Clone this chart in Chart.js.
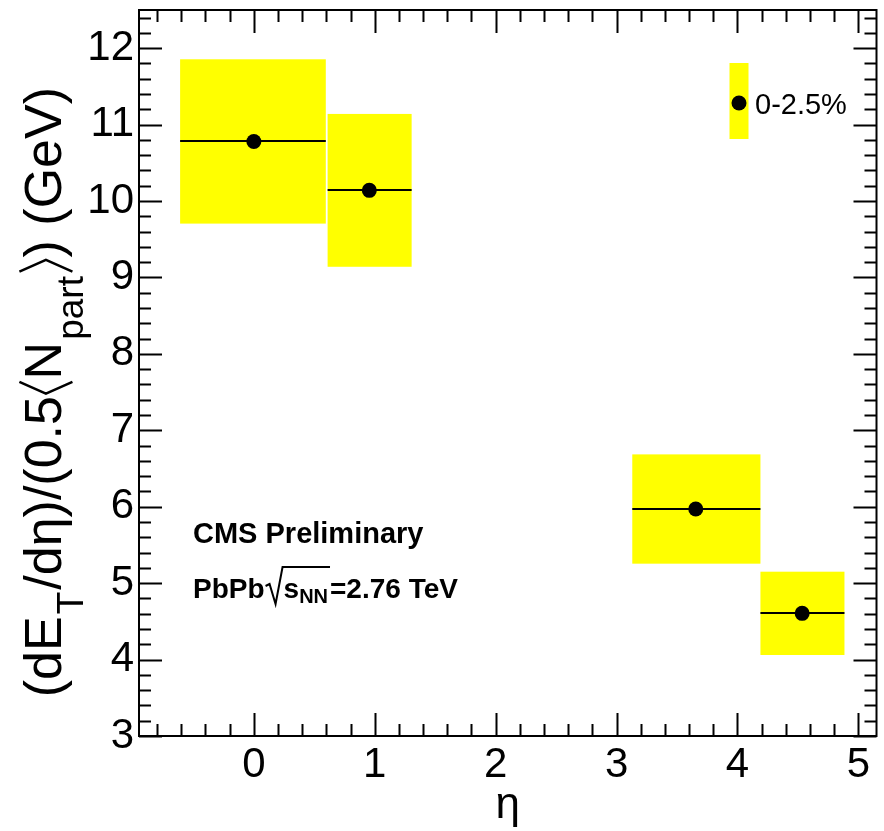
<!DOCTYPE html>
<html>
<head>
<meta charset="utf-8">
<script src="https://cdn.jsdelivr.net/npm/chart.js@4.4.1/dist/chart.umd.min.js"></script>
<style>
  html, body { margin: 0; padding: 0; background: #fff; }
  canvas { display: block; }
</style>
</head>
<body>
<canvas id="graph" width="884" height="831"></canvas>
<script>
// eta bins (centre and edges)
const eta = [0, 0.955, 3.655, 4.535];
const etaLow = [-0.61, 0.61, 3.13, 4.19];
const etaHigh = [0.595, 1.305, 4.19, 4.885];
// (dE_T/deta)/(0.5 <Npart>) in GeV, with systematic errors
const etPerPart = [10.78, 10.14, 5.97, 4.605];
const sysErr = [1.075, 1.0, 0.715, 0.545];

const xTicks = [0, 1, 2, 3, 4, 5];
const yTicks = [3, 4, 5, 6, 7, 8, 9, 10, 11, 12];
const legendLabel = '0-2.5%';

const FONT = "'Liberation Sans', Arial, Helvetica, sans-serif";
const YELLOW = '#ffff00';

function textW(ctx, font, t) {
  ctx.font = font;
  return ctx.measureText(t).width;
}

// y title with subscripts, drawn rotated
function drawYTitle(ctx, baseX, topY, size) {
  const parts = [
    { t: '(dE' }, { t: 'T', sub: true }, { t: '/dη)/(0.5' }, { ang: 'l' },
    { t: 'N' }, { t: 'part', sub: true }, { ang: 'r' }, { t: ') (GeV)' }
  ];
  const main = size + 'px ' + FONT;
  const small = Math.round(size * 0.72) + 'px ' + FONT;
  const angW = size * 0.32;
  let total = 0;
  parts.forEach(p => {
    p.w = p.ang ? angW : textW(ctx, p.sub ? small : main, p.t) + (p.sub ? 4 : 0);
    total += p.w;
  });
  ctx.save();
  ctx.translate(baseX, topY + total);
  ctx.rotate(-Math.PI / 2);
  ctx.fillStyle = '#000';
  ctx.strokeStyle = '#000';
  ctx.lineWidth = 2.5;
  ctx.textBaseline = 'alphabetic';
  let cx = 0;
  parts.forEach(p => {
    if (p.ang) {
      const top = -size * 0.8, bot = size * 0.22, mid = (top + bot) / 2;
      ctx.beginPath();
      if (p.ang === 'l') {
        ctx.moveTo(cx + angW * 0.85, top); ctx.lineTo(cx + angW * 0.15, mid); ctx.lineTo(cx + angW * 0.85, bot);
      } else {
        ctx.moveTo(cx + angW * 0.15, top); ctx.lineTo(cx + angW * 0.85, mid); ctx.lineTo(cx + angW * 0.15, bot);
      }
      ctx.stroke();
    } else {
      ctx.font = p.sub ? small : main;
      ctx.fillText(p.t, cx + (p.sub ? 2 : 0), p.sub ? size * 0.42 : 0);
    }
    cx += p.w;
  });
  ctx.restore();
}

const rootStyle = {
  id: 'rootStyle',
  beforeDatasetsDraw(chart) {
    const { ctx, scales: { x, y } } = chart;
    ctx.save();
    ctx.fillStyle = YELLOW;
    eta.forEach((v, i) => {
      const x0 = x.getPixelForValue(etaLow[i]);
      const x1 = x.getPixelForValue(etaHigh[i]);
      const y0 = y.getPixelForValue(etPerPart[i] + sysErr[i]);
      const y1 = y.getPixelForValue(etPerPart[i] - sysErr[i]);
      ctx.fillRect(x0, y0, x1 - x0, y1 - y0);
    });
    ctx.strokeStyle = '#000';
    ctx.lineWidth = 2;
    eta.forEach((v, i) => {
      const py = Math.round(y.getPixelForValue(etPerPart[i]));
      ctx.beginPath();
      ctx.moveTo(x.getPixelForValue(etaLow[i]), py);
      ctx.lineTo(x.getPixelForValue(etaHigh[i]), py);
      ctx.stroke();
    });
    ctx.restore();
  },
  afterDraw(chart) {
    const { ctx, chartArea: a, scales: { x, y } } = chart;
    ctx.save();
    ctx.strokeStyle = '#000';
    ctx.lineWidth = 2;
    ctx.strokeRect(a.left, a.top, a.right - a.left, a.bottom - a.top);

    // ticks inside the frame, on all sides
    ctx.beginPath();
    for (let k = -10; k <= 30; k++) {
      const v = k * 0.2;
      if (v < x.min || v > x.max) continue;
      const px = Math.round(x.getPixelForValue(v)) + 0.5;
      const len = k % 5 === 0 ? 23 : 12;
      ctx.moveTo(px, a.bottom); ctx.lineTo(px, a.bottom - len);
      ctx.moveTo(px, a.top); ctx.lineTo(px, a.top + len);
    }
    for (let k = 15; k <= 63; k++) {
      const v = k * 0.2;
      if (v < y.min || v > y.max) continue;
      const py = Math.round(y.getPixelForValue(v)) + 0.5;
      const len = k % 5 === 0 ? 23 : 12;
      ctx.moveTo(a.left, py); ctx.lineTo(a.left + len, py);
      ctx.moveTo(a.right, py); ctx.lineTo(a.right - len, py);
    }
    ctx.stroke();

    // axis titles
    ctx.fillStyle = '#000';
    ctx.font = '44px ' + FONT;
    ctx.textAlign = 'center';
    ctx.textBaseline = 'alphabetic';
    ctx.fillText('η', (a.left + a.right) / 2, 818);
    ctx.textAlign = 'left';
    drawYTitle(ctx, 61, 87, 52);

    // CMS label
    ctx.font = 'bold 29px ' + FONT;
    ctx.fillText('CMS Preliminary', 193, 543);
    const base = 598;
    let cx = 193;
    ctx.font = 'bold 28px ' + FONT;
    ctx.fillText('PbPb', cx, base);
    cx += ctx.measureText('PbPb').width;
    const rx = cx + 1;
    cx = rx + 18;
    ctx.fillText('s', cx, base);
    cx += ctx.measureText('s').width;
    ctx.font = 'bold 20px ' + FONT;
    ctx.fillText('NN', cx, base + 5);
    cx += ctx.measureText('NN').width + 2;
    ctx.lineWidth = 2;
    ctx.beginPath();
    ctx.moveTo(rx, base - 12);
    ctx.lineTo(rx + 4, base - 14);
    ctx.lineTo(rx + 10, base + 6);
    ctx.lineTo(rx + 17, base - 31);
    ctx.lineTo(cx, base - 31);
    ctx.stroke();
    ctx.font = 'bold 28px ' + FONT;
    ctx.fillText('=2.76 TeV', cx, base);

    // legend entry: box + marker + label
    const lx = a.left + 600, ly = a.top + 93;
    ctx.fillStyle = YELLOW;
    ctx.fillRect(lx - 9.5, ly - 40, 19, 76);
    ctx.fillStyle = '#000';
    ctx.beginPath();
    ctx.arc(lx, ly, 7.5, 0, Math.PI * 2);
    ctx.fill();
    ctx.font = '29px ' + FONT;
    ctx.fillText(legendLabel, lx + 16, ly + 11);
    ctx.restore();
  }
};

const ctx = document.getElementById('graph');
new Chart(ctx, {
  type: 'scatter',
  data: {
    datasets: [{
      data: eta.map((v, i) => ({ x: v, y: etPerPart[i] })),
      pointRadius: 7.5,
      pointHoverRadius: 7.5,
      pointBackgroundColor: '#000',
      pointBorderWidth: 0,
      showLine: false,
    }],
  },
  options: {
    responsive: false,
    animation: false,
    devicePixelRatio: 1,
    layout: { padding: { left: 0, top: 10, right: 7, bottom: 0 } },
    plugins: { legend: { display: false }, tooltip: { enabled: false } },
    scales: {
      x: {
        type: 'linear',
        min: -0.95,
        max: 5.15,
        grid: { display: false, drawTicks: false },
        border: { display: false },
        afterBuildTicks: (s) => { s.ticks = xTicks.map(v => ({ value: v })); },
        afterFit: (s) => { s.height = 95; s.paddingLeft = 0; s.paddingRight = 0; },
        ticks: {
          color: '#000',
          padding: 4,
          maxRotation: 0,
          autoSkip: false,
          font: { family: FONT, size: 42 },
        },
      },
      y: {
        type: 'linear',
        min: 3,
        max: 12.5,
        grid: { display: false, drawTicks: false },
        border: { display: false },
        afterBuildTicks: (s) => { s.ticks = yTicks.map(v => ({ value: v })); },
        afterFit: (s) => { s.width = 139; s.paddingTop = 0; s.paddingBottom = 0; },
        ticks: {
          color: '#000',
          padding: 5,
          autoSkip: false,
          font: { family: FONT, size: 42 },
        },
      },
    },
  },
  plugins: [rootStyle],
});
</script>
</body>
</html>
